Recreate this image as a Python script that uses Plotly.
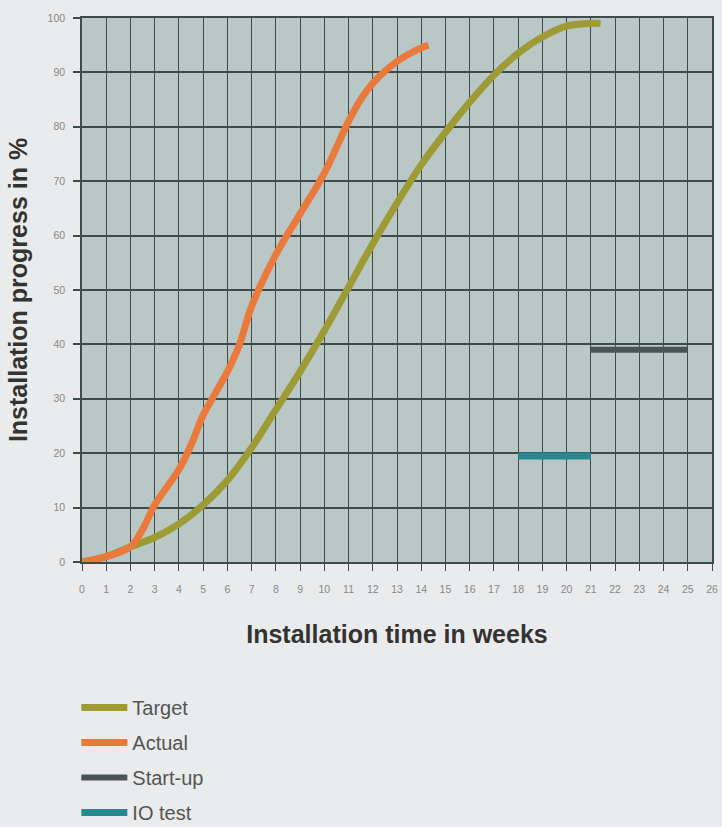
import plotly.graph_objects as go

# Data
target_weeks = [0, 1, 2, 3, 4, 5, 6, 7, 8, 9, 10, 11, 12, 13, 14, 15, 16, 17, 18, 19, 20, 21, 21.4]
target_pct = [0, 1, 2.8, 4.5, 7, 10.5, 15, 21, 28, 35, 42.5, 50.5, 58.5, 66, 73, 79, 84.5, 89.5, 93.5, 96.5, 98.5, 99, 99]

actual_weeks = [0, 1, 2, 2.5, 3, 4, 4.5, 5, 5.5, 6, 6.5, 7, 8, 9, 10, 11, 11.5, 12, 13, 14, 14.3]
actual_pct = [0, 1, 2.8, 6, 10.5, 17, 21.5, 27, 31, 35, 40, 47, 56.5, 64, 71.5, 81, 85, 88, 92, 94.5, 95]

startup_weeks = [21, 25]
startup_pct = [39, 39]

iotest_weeks = [18, 21]
iotest_pct = [19.5, 19.5]

x_ticks = list(range(0, 27))
y_ticks = list(range(0, 101, 10))

fig = go.Figure()
fig.add_trace(go.Scatter(x=target_weeks, y=target_pct, mode="lines", name="Target",
                         line=dict(color="#9e9a34", width=7, shape="spline"), legendgroup="a"))
fig.add_trace(go.Scatter(x=actual_weeks, y=actual_pct, mode="lines", name="Actual",
                         line=dict(color="#ea7a3c", width=7, shape="spline"), legendgroup="b"))
fig.add_trace(go.Scatter(x=startup_weeks, y=startup_pct, mode="lines", name="Start-up",
                         line=dict(color="#4b5454", width=6), legendgroup="c"))
fig.add_trace(go.Scatter(x=iotest_weeks, y=iotest_pct, mode="lines", name="IO test",
                         line=dict(color="#2a8790", width=7), legendgroup="d"))

fig.update_layout(
    width=722, height=827,
    margin=dict(l=82, r=10, t=18, b=265, autoexpand=False),
    paper_bgcolor="#e9ebec",
    plot_bgcolor="#b9c7c7",
    font=dict(family="Liberation Sans, Arial, sans-serif", color="#666"),
    legend=dict(x=-0.009, y=-0.2315, xanchor="left", yanchor="top",
                font=dict(size=20, color="#555"), tracegroupgap=6,
                itemwidth=46, bgcolor="rgba(0,0,0,0)"),
)
fig.update_xaxes(
    range=[0, 26], tickvals=x_ticks, ticktext=[str(v) for v in x_ticks],
    showgrid=True, gridcolor="#3f4a4a", gridwidth=1,
    showline=True, linecolor="#3f4a4a", linewidth=1.5, mirror=True,
    ticks="outside", ticklen=7, tickcolor="#3f4a4a", tickwidth=1,
    ticklabelstandoff=10,
    tickfont=dict(size=10.5, color="#888"), zeroline=False,
    title=dict(text="<b>Installation time in weeks</b>", font=dict(size=25, color="#333"), standoff=31),
)
fig.update_yaxes(
    range=[0, 100], tickvals=y_ticks,
    showgrid=True, gridcolor="#3f4a4a", gridwidth=1.5,
    showline=True, linecolor="#3f4a4a", linewidth=1.5, mirror=True,
    ticks="outside", ticklen=7, tickcolor="#3f4a4a", tickwidth=1.5,
    ticklabelstandoff=6,
    tickfont=dict(size=10.5, color="#888"), zeroline=False,
    title=dict(text="<b>Installation progress in %</b>", font=dict(size=25, color="#333"), standoff=13),
)

fig.write_html(
    "out.html",
    config={"displayModeBar": False},
    post_script="document.body.style.margin='0';document.body.style.background='#e9ebec';document.body.style.overflow='hidden';",
)
